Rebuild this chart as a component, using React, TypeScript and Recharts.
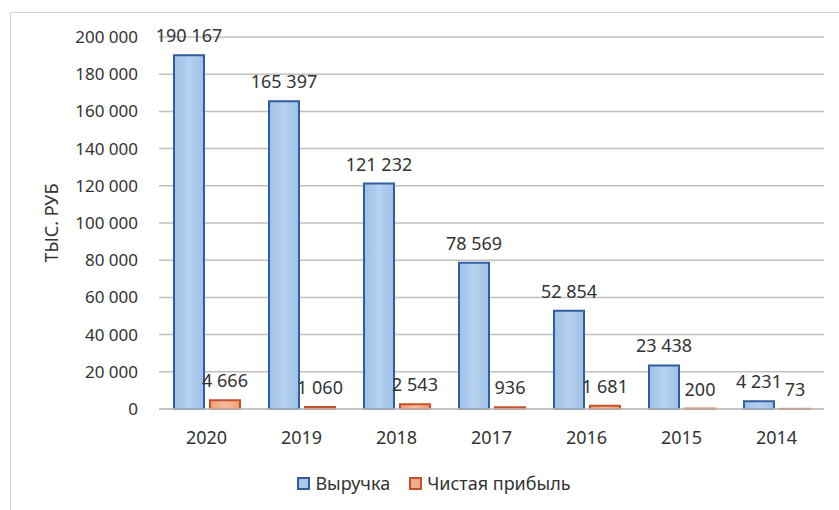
import React from "react";
import {
  BarChart,
  Bar,
  XAxis,
  YAxis,
  CartesianGrid,
  Legend,
  LabelList,
} from "recharts";

const years = ["2020", "2019", "2018", "2017", "2016", "2015", "2014"];
const revenue = [190167, 165397, 121232, 78569, 52854, 23438, 4231];
const netProfit = [4666, 1060, 2543, 936, 1681, 200, 73];
const yTicks = [0, 20000, 40000, 60000, 80000, 100000, 120000, 140000, 160000, 180000, 200000];

const data = years.map((year, i) => ({
  year,
  revenue: revenue[i],
  profit: netProfit[i],
}));

const FONT = "'Noto Sans', sans-serif";
const TEXT = "#333333";
const BLUE_STROKE = "#2f5f9f";
const RED_STROKE = "#c4502c";

// non-breaking space so label text is not wrapped
function formatSpaced(n: number): string {
  return String(Math.round(n)).replace(/\B(?=(\d{3})+(?!\d))/g, "\u00A0");
}

function LegendContent(props: any) {
  const items = [
    { label: "Выручка", fill: "#a9c8ec", stroke: BLUE_STROKE },
    { label: "Чистая прибыль", fill: "#f2ab86", stroke: RED_STROKE },
  ];
  return (
    <div
      style={{
        display: "flex",
        justifyContent: "center",
        gap: 19,
        fontFamily: FONT,
        fontSize: 18,
        color: TEXT,
        paddingLeft: 44,
      }}
    >
      {items.map((it) => (
        <span key={it.label} style={{ display: "flex", alignItems: "center" }}>
          <span
            style={{
              display: "inline-block",
              width: 9,
              height: 9,
              background: it.fill,
              border: `2px solid ${it.stroke}`,
              marginRight: 5,
            }}
          />
          {it.label}
        </span>
      ))}
    </div>
  );
}

export default function App() {
  return (
    <div
      style={{
        position: "absolute",
        left: 0,
        top: 0,
        width: 839,
        height: 510,
        background: "#fff",
        overflow: "hidden",
      }}
    >
      <div
        style={{
          position: "absolute",
          left: 10,
          top: 12,
          width: 840,
          height: 520,
          border: "1px solid #d4d4d4",
        }}
      />
      <BarChart
        width={839}
        height={510}
        data={data}
        margin={{ top: 37, right: 15, left: 0, bottom: 37 }}
        barSize={30}
        barGap={6}
        style={{ position: "absolute", left: 0, top: 0 }}
      >
        <defs>
          <linearGradient id="gradBlue" x1="0" y1="0" x2="1" y2="0">
            <stop offset="0%" stopColor="#9fc0e8" />
            <stop offset="50%" stopColor="#b7d1f0" />
            <stop offset="100%" stopColor="#9fc0e8" />
          </linearGradient>
          <linearGradient id="gradRed" x1="0" y1="0" x2="1" y2="0">
            <stop offset="0%" stopColor="#ee9f78" />
            <stop offset="50%" stopColor="#f6bb9b" />
            <stop offset="100%" stopColor="#ee9f78" />
          </linearGradient>
        </defs>
        <CartesianGrid vertical={false} stroke="#c0c0c0" strokeWidth={1.5} />
        <XAxis
          dataKey="year"
          height={40}
          tickLine={false}
          axisLine={{ stroke: "#c0c0c0", strokeWidth: 1.5 }}
          tickMargin={16}
          tick={{ fontSize: 18, fill: TEXT, fontFamily: FONT }}
        />
        <YAxis
          width={159}
          domain={[0, 200000]}
          ticks={yTicks}
          interval={0}
          tickLine={false}
          axisLine={false}
          tickSize={0}
          tickMargin={21}
          tickFormatter={formatSpaced}
          tick={{ fontSize: 17, fill: TEXT, fontFamily: FONT }}
          label={{
            value: "ТЫС. РУБ",
            angle: -90,
            position: "insideLeft",
            offset: 52,
            style: { fontSize: 18, fill: TEXT, fontFamily: FONT, textAnchor: "middle" },
          }}
        />
        <Legend
          verticalAlign="bottom"
          content={<LegendContent />}
          wrapperStyle={{ top: 471, bottom: "auto" }}
        />
        <Bar
          dataKey="revenue"
          name="Выручка"
          fill="url(#gradBlue)"
          stroke={BLUE_STROKE}
          strokeWidth={2}
          isAnimationActive={false}
        >
          <LabelList
            dataKey="revenue"
            position="top"
            offset={13}
            formatter={(v: any) => formatSpaced(Number(v))}
            style={{ fontSize: 18, fill: TEXT, fontFamily: FONT }}
          />
        </Bar>
        <Bar
          dataKey="profit"
          name="Чистая прибыль"
          fill="url(#gradRed)"
          stroke={RED_STROKE}
          strokeWidth={2}
          isAnimationActive={false}
        >
          <LabelList
            dataKey="profit"
            position="top"
            offset={13}
            formatter={(v: any) => formatSpaced(Number(v))}
            style={{ fontSize: 18, fill: TEXT, fontFamily: FONT }}
          />
        </Bar>
      </BarChart>
    </div>
  );
}
